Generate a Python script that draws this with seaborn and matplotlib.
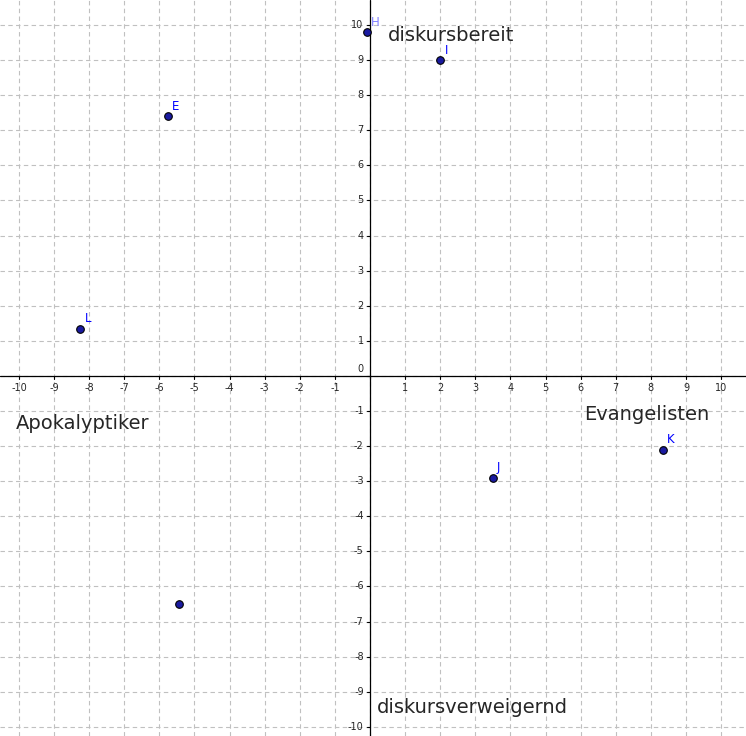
import matplotlib
matplotlib.use("Agg")
import matplotlib.pyplot as plt
import seaborn as sns
import pandas as pd

sns.set_style("white")
plt.rcParams['font.family'] = ['DejaVu Sans']

# points
names = ["H", "I", "E", "L", "J", "K", ""]
xs = [-0.1, 2.0, -5.75, -8.25, 3.5, 8.35, -5.45]
ys = [9.8, 9.0, 7.4, 1.35, -2.9, -2.1, -6.5]
df = pd.DataFrame({"x": xs, "y": ys, "name": names})

# quadrant labels
quad_text = ["diskursbereit", "Apokalyptiker", "Evangelisten", "diskursverweigernd"]
quad_x = [0.5, -10.1, 6.1, 0.2]
quad_y = [9.7, -1.35, -1.1, -9.45]

fig = plt.figure(figsize=(7.46, 7.36), dpi=100)
ax = fig.add_axes([0, 0, 1, 1])
ax.set_xlim(-10.54, 10.71)
ax.set_ylim(-10.26, 10.71)

for v in range(-10, 11):
    ax.axvline(v, color="#c0c0c0", ls=(0, (4, 3)), lw=0.8, zorder=0)
    ax.axhline(v, color="#c0c0c0", ls=(0, (4, 3)), lw=0.8, zorder=0)
ax.axhline(0, color="black", lw=0.9, zorder=1)
ax.axvline(0, color="black", lw=0.9, zorder=1)

for v in range(-10, 11):
    ax.plot([v, v], [0, -0.08], color="black", lw=0.8)
    ax.plot([0, -0.08], [v, v], color="black", lw=0.8)
    if v != 0:
        ax.text(v, -0.2, str(v), ha="center", va="top", fontsize=7)
        ax.text(-0.18, v, str(v), ha="right", va="center", fontsize=7)
ax.text(-0.18, 0.2, "0", ha="right", va="center", fontsize=7)

sns.scatterplot(data=df, x="x", y="y", ax=ax, color="#1a1aa0", s=30,
                edgecolor="black", linewidth=0.8, zorder=3, legend=False)
for _, r in df.iterrows():
    if r["name"]:
        c = "#7f7fff" if r["name"] == "H" else "#0000ff"
        ax.text(r["x"] + 0.12, r["y"] + 0.18, r["name"], color=c, fontsize=8.5)

for t, x, y in zip(quad_text, quad_x, quad_y):
    ax.text(x, y, t, fontsize=14, ha="left", va="center")

ax.set_axis_off()
fig.savefig("out.png", dpi=100)
